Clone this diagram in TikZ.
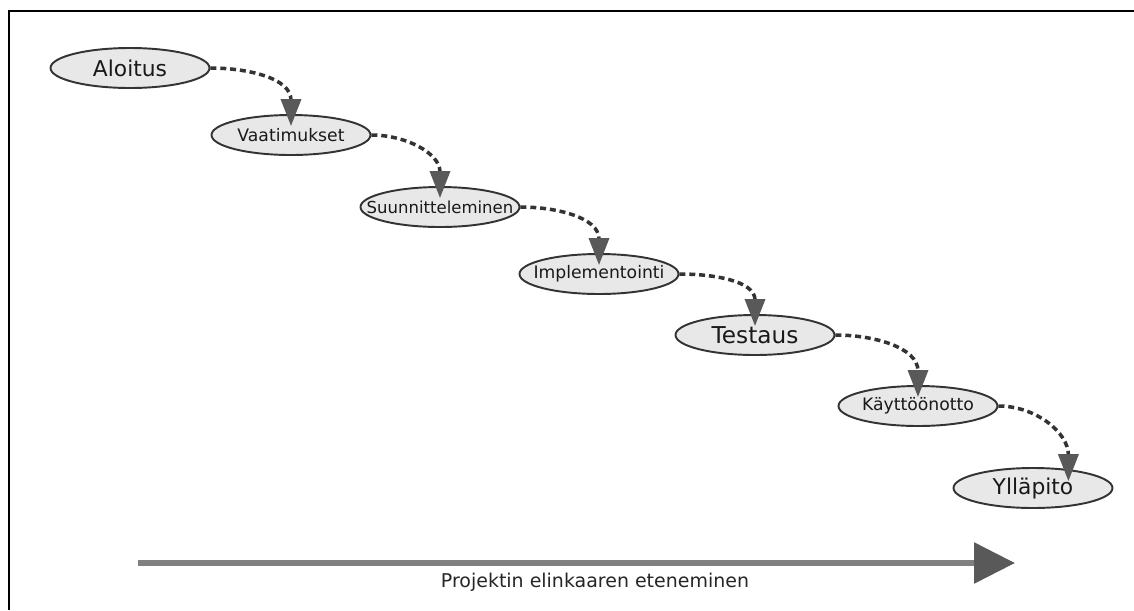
\documentclass[tikz,border=0pt]{standalone}
\usepackage{fontspec}
\setmainfont{DejaVu Sans}
\usepackage{tikz}
\usetikzlibrary{arrows.meta}
\usetikzlibrary{shapes}
\definecolor{phasefill}{gray}{0.91}
\definecolor{darkline}{gray}{0.2}
\definecolor{tipgray}{gray}{0.35}
\definecolor{axisgray}{gray}{0.5}
\tikzstyle{phase} = [ellipse, minimum width=3.18cm, minimum height=0.8cm, inner xsep=-1.6cm, inner ysep=0pt, draw=darkline, line width=1.1pt, fill=phasefill, text=black!90]
\tikzstyle{big} = [font=\fontsize{12.4}{14}\selectfont]
\tikzstyle{small} = [font=\fontsize{9.8}{12}\selectfont]
\tikzstyle{flow} = [darkline, line width=2pt, dash pattern=on 3.4pt off 2.2pt, -{Triangle[length=0.54cm, width=0.4cm, color=tipgray]}, shorten >=-0.24cm]
\tikzstyle{timeline} = [axisgray, line width=3.4pt, -{Triangle[length=0.82cm, width=0.8cm, color=tipgray]}]
\begin{document}
\begin{tikzpicture}[node distance=3.2cm]

\useasboundingbox (0,0) rectangle (22.68,-12.2);
\draw [line width=1.1pt] (0.18,-12.2) |- (22.68,-0.22);

\node [phase, big] (start) at (2.6,-1.36) {Aloitus};
\node [phase, small, right of = start, xshift=0.02cm, yshift=-1.34cm] (req) {Vaatimukset};
\node [phase, small, right of = req, xshift=-0.22cm, yshift=-1.44cm, font=\fontsize{9.4}{11}\selectfont] (design) {Suunnitteleminen};
\node [phase, small, right of = design, xshift=-0.02cm, yshift=-1.34cm] (impl) {Implementointi};
\node [phase, big, right of = impl, xshift=-0.08cm, yshift=-1.22cm, font=\fontsize{13.2}{15}\selectfont] (test) {Testaus};
\node [phase, small, right of = test, xshift=0.06cm, yshift=-1.42cm] (deploy) {Käyttöönotto};
\node [phase, big, right of = deploy, xshift=-0.9cm, yshift=-1.64cm] (maint) {Ylläpito};

\draw [flow] (start.east) to [out=0, in=90] (req.north);
\draw [flow] (req.east) to [out=0, in=90] (design.north);
\draw [flow] (design.east) to [out=0, in=90] (impl.north);
\draw [flow] (impl.east) to [out=0, in=90] (test.north);
\draw [flow] (test.east) to [out=0, in=90] (deploy.north);
\draw [flow] (deploy.east) to [out=0, in=90] (maint.28);

\coordinate (t0) at (2.76,-11.26);
\coordinate (t1) at (20.3,-11.26);
\draw [timeline] (t0) -- (t1);
\node [font=\fontsize{10.8}{13}\selectfont, text=black!85] (tlabel) at (11.9,-11.64) {Projektin elinkaaren eteneminen};

\end{tikzpicture}
\end{document}
